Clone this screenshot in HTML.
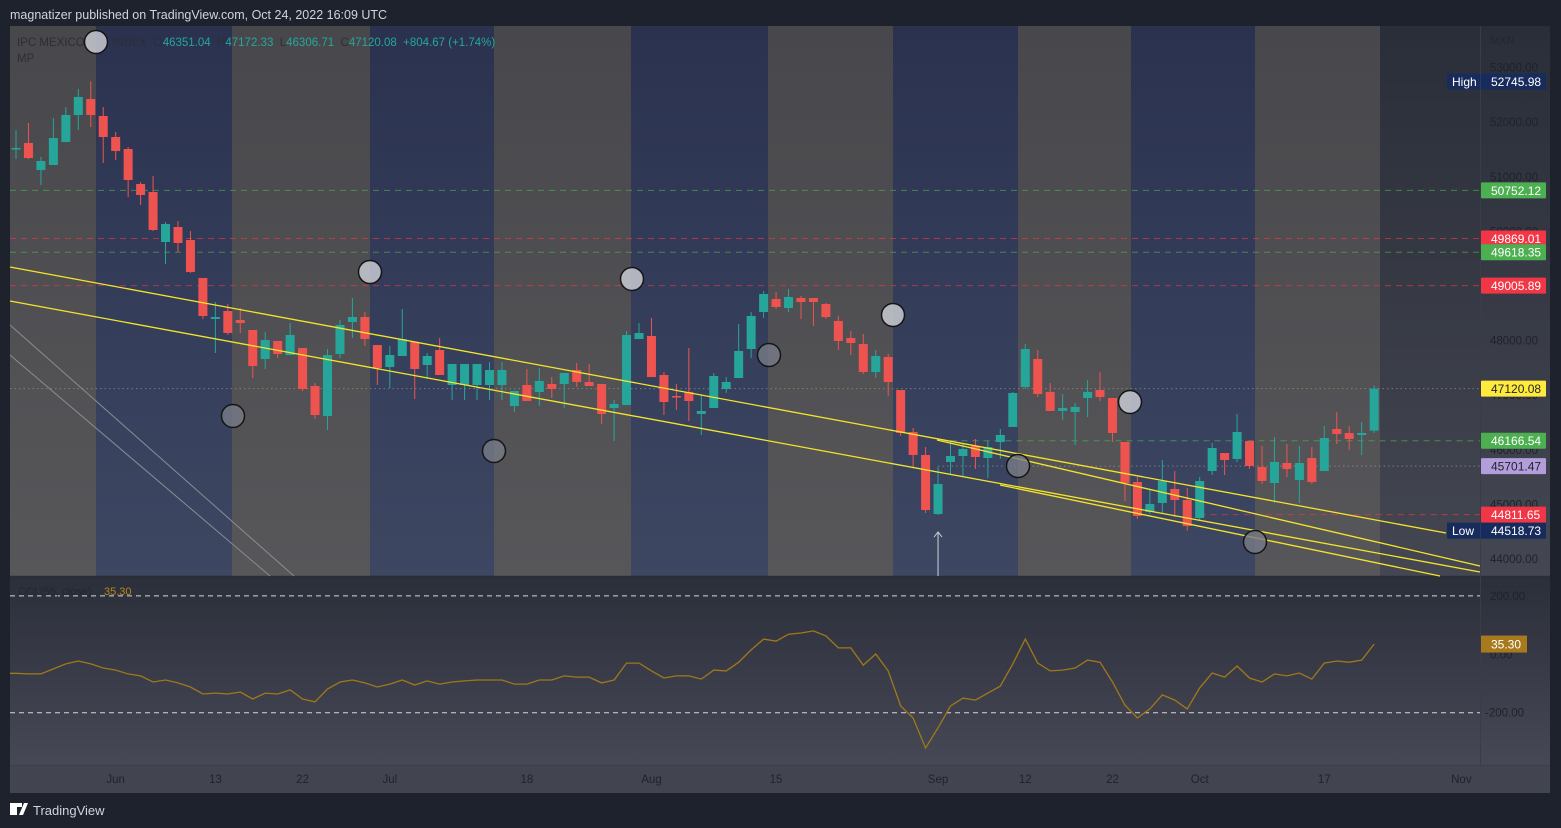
<!DOCTYPE html>
<html><head><meta charset="utf-8">
<style>
html,body{margin:0;padding:0;background:#1e222d;width:1561px;height:828px;overflow:hidden}
svg{display:block}
text{font-family:"Liberation Sans",sans-serif}
</style></head>
<body>
<svg id="chart" width="1561" height="828" viewBox="0 0 1561 828" xmlns="http://www.w3.org/2000/svg">
<defs>
<linearGradient id="gGray" x1="0" y1="0" x2="0" y2="1"><stop offset="0" stop-color="#48484c"/><stop offset="1" stop-color="#57575a"/></linearGradient>
<linearGradient id="gNavy" x1="0" y1="0" x2="0" y2="1"><stop offset="0" stop-color="#2a3250"/><stop offset="1" stop-color="#3d4762"/></linearGradient>
<linearGradient id="gDark" x1="0" y1="0" x2="0" y2="1"><stop offset="0" stop-color="#2a2e39"/><stop offset="1" stop-color="#444752"/></linearGradient>
<linearGradient id="gCci" x1="0" y1="0" x2="0" y2="1"><stop offset="0" stop-color="#2b2f3a"/><stop offset="1" stop-color="#464855"/></linearGradient>
</defs>
<text x="10" y="19" fill="#d1d4dc" font-size="12.5">magnatizer published on TradingView.com, Oct 24, 2022 16:09 UTC</text>
<g id="bg"></g>
<g id="hlines"></g>
<g id="candles"></g>
<g id="trend"></g>
<g id="axis"></g>
<g id="cci"></g>
<g id="time"></g>
<g font-size="11.5">
<text x="17" y="46" fill="#2c2e34" xml:space="preserve">IPC MEXICO, 1D, INDEX  O<tspan fill="#26a69a">46351.04</tspan>  H<tspan fill="#26a69a">47172.33</tspan>  L<tspan fill="#26a69a">46306.71</tspan>  C<tspan fill="#26a69a">47120.08</tspan>  <tspan fill="#26a69a">+804.67 (+1.74%)</tspan></text>
<text x="17" y="62" fill="#2c2e34">MP</text>
</g>
<g id="circles"></g>
<g>
<rect x="10" y="803" width="7" height="12" fill="#fff"/><rect x="10" y="803" width="12" height="4" fill="#fff"/><polygon points="19,815 24,803 28,803 23,815" fill="#fff"/>
<text x="33" y="815" fill="#d1d4dc" font-size="13">TradingView</text>
</g>
</svg>
<script>
const open=[51509,51619,51125,51216,51637,52132,52425,52114,51729,51509,50868,50722,49806,50081,49842,49147,48396,48542,48377,48194,47663,47993,47736,47864,47168,46619,47755,48341,48432,47919,47516,47718,47974,47553,47828,47187,47187,47187,47187,47187,46802,47187,47059,47205,47205,47462,47242,47205,46766,46821,48029,48084,47370,46985,47059,46656,46766,47114,47315,47846,48524,48762,48597,48780,48780,48670,48359,48048,47938,47425,47700,47095,46326,45905,44824,45777,45886,46070,45850,46143,46418,47150,47663,47059,46711,46692,46949,47095,46949,46143,45410,44861,45026,45282,45081,44751,45612,45941,45832,46161,45685,45392,45758,45447,45850,45612,46381,46308,46271,46351];
const high=[51857,51985,51363,52077,52278,52608,52746,52278,51821,51546,50905,51015,50172,50190,50007,49147,48707,48670,48597,48194,48158,47993,48322,47864,47223,47846,48377,48780,48524,47919,47901,48579,47974,47773,48048,47571,47571,47571,47608,47608,47077,47480,47498,47333,47407,47590,47571,47205,46912,48176,48322,48414,47425,47205,47864,47022,47407,47333,48304,48524,48908,48890,48945,48817,48780,48689,48451,48176,48121,47828,47755,47095,46399,46051,45685,46161,46106,46198,46161,46381,47059,47938,47828,47223,47022,46857,47278,47425,46949,46143,45502,45282,45813,45612,45300,45502,46125,45941,46656,46161,46070,46234,46106,46070,46051,46436,46692,46436,46509,47172];
const low=[51326,51326,50850,51216,51637,51857,51912,51253,51308,50630,50484,50007,49403,49623,49238,48396,47773,48103,48139,47315,47480,47681,47736,47077,46564,46363,47681,48048,47901,47187,47132,47718,46930,47297,47370,46912,46912,46912,46912,46912,46692,46894,46802,46949,46766,47150,47168,46473,46161,46821,48029,47333,46637,46729,46527,46271,46766,47040,47315,47681,48414,48579,48524,48396,48267,48396,47828,47736,47388,47315,46985,46253,45667,44842,44806,45538,45502,45648,45484,45832,46418,47114,46967,46711,46546,46088,46601,46894,46143,45062,44733,44824,44842,44769,44519,44696,45538,45538,45777,45648,45374,45026,45502,45026,45374,45612,46106,45996,45905,46307];
const close=[51527,51344,51289,51711,52132,52462,52132,51729,51473,50941,50667,50026,50136,49788,49256,48451,48432,48139,48322,47535,48011,47755,48103,47114,46637,47736,48286,48432,48029,47498,47736,48029,47480,47718,47370,47571,47571,47571,47462,47462,47077,46894,47260,47114,47407,47242,47168,46656,46839,48103,48139,47333,46875,46967,46894,46711,47352,47242,47810,48451,48853,48615,48799,48707,48707,48432,47993,47956,47425,47718,47242,46308,45905,44897,45374,45886,46015,45868,46051,46271,47040,47846,47022,46711,46766,46784,47059,46967,46308,45392,44788,45007,45429,45081,44604,45429,46033,45813,46326,45703,45429,45777,45648,45758,45410,46216,46289,46198,46308,47120];
const cci=[-65,-67,-67,-50,-33,-23,-33,-47,-54,-67,-74,-95,-88,-98,-112,-136,-133,-136,-129,-153,-133,-136,-122,-153,-163,-119,-95,-88,-98,-112,-102,-88,-105,-91,-102,-95,-91,-88,-88,-88,-102,-102,-88,-88,-74,-78,-78,-98,-88,-30,-30,-57,-81,-74,-74,-85,-54,-57,-27,15,52,45,69,73,80,63,22,22,-37,1,-57,-177,-218,-321,-252,-177,-150,-157,-133,-109,-33,52,-30,-57,-54,-47,-20,-27,-95,-174,-218,-187,-139,-157,-187,-115,-64,-78,-40,-81,-95,-67,-74,-64,-85,-30,-23,-27,-20,35];
const priceTicks=[44000,45000,46000,47000,48000,49000,50000,51000,52000,53000];
const cciTicks=[200,0,-200];
const timeLabels=["Jun","13","22","Jul","18","Aug","15","Sep","12","22","Oct","17","Nov"];
const timeIdx=[8,16,23,30,41,51,61,74,81,88,95,105,116];
const levelValues=[50752.12,49869.01,49618.35,49005.89,47120.08,46166.54,45701.47,44811.65];
const levelKinds=["green","red","green","red","last","green","gray","red"];
const levelStartIdx=[-1,-1,-1,-1,-1,75,74,95];
const highValue=52745.98, lowValue=44518.73;

const NS="http://www.w3.org/2000/svg";
const xOf=i=>16+i*12.46;
const yP=p=>559-(p-44000)*0.0546;
const yC=v=>654.3-v*0.292;
function mk(tag,attrs,parent){const e=document.createElementNS(NS,tag);for(const k in attrs)e.setAttribute(k,attrs[k]);parent.appendChild(e);return e;}
const g=id=>document.getElementById(id);

const bg=g('bg');
const cols=[[10,96,'gGray'],[96,232,'gNavy'],[232,370,'gGray'],[370,494,'gNavy'],[494,631,'gGray'],[631,768,'gNavy'],[768,893,'gGray'],[893,1018,'gNavy'],[1018,1131,'gGray'],[1131,1255,'gNavy'],[1255,1380,'gGray'],[1380,1550,'gDark']];
cols.forEach(c=>{const r=mk('rect',{x:c[0],y:26,width:c[1]-c[0],height:550,fill:'url(#'+c[2]+')'},bg);

});
const cbg=mk('rect',{x:10,y:577,width:1540,height:188,fill:'url(#gCci)'},bg);


const tbg=mk('rect',{x:10,y:765,width:1540,height:28,fill:'#42454f'},bg);


mk('line',{x1:10,y1:576.5,x2:1550,y2:576.5,stroke:'#2a2d36','stroke-width':1.5},bg);
mk('line',{x1:1480.5,y1:26,x2:1480.5,y2:765,stroke:'#3a3d47','stroke-width':1},bg);
mk('line',{x1:10,y1:765.5,x2:1550,y2:765.5,stroke:'#3c3f49','stroke-width':1},bg);
mk('line',{x1:10,y1:325,x2:294,y2:576,stroke:'#8a8c92','stroke-width':1},bg);
mk('line',{x1:10,y1:355,x2:270,y2:576,stroke:'#8a8c92','stroke-width':1},bg);

const colMap={green:'#4caf50',red:'#f23645',last:'#9a9a8a',gray:'#9a9aa8'};
const hl=g('hlines');
levelValues.forEach((v,k)=>{const kind=levelKinds[k];const x1=levelStartIdx[k]<0?10:xOf(levelStartIdx[k]);
const l=mk('line',{x1:x1,y1:yP(v),x2:1480,y2:yP(v),stroke:colMap[kind],'stroke-width':1,'stroke-dasharray':(kind==='last'||kind==='gray')?'1.5,3':'6,5',opacity:0.65},hl);

});

const cg=g('candles');
for(let i=0;i<open.length;i++){
 const up=close[i]>=open[i];const col=up?'#26a69a':'#ef5350';const x=xOf(i);
 const w=mk('line',{x1:x,y1:yP(high[i]),x2:x,y2:yP(low[i]),stroke:col,'stroke-width':1},cg);
 
 
 const t=Math.min(yP(open[i]),yP(close[i]));const h=Math.max(1.5,Math.abs(yP(open[i])-yP(close[i])));
 const b=mk('rect',{x:x-4.5,y:t,width:9,height:h,fill:col},cg);
 
 
}
const ax=xOf(74);
mk('line',{x1:ax,y1:532,x2:ax,y2:576,stroke:'#d0d2d8','stroke-width':1},cg);
mk('polyline',{points:(ax-4)+',537 '+ax+',532 '+(ax+4)+',537',fill:'none',stroke:'#d0d2d8','stroke-width':1},cg);

const tg=g('trend');
[[10,267,1446,533],[10,301,1480,572],[937,440,1480,566],[1000,485,1440,576]].forEach(s=>{
 const l=mk('line',{x1:s[0],y1:s[1],x2:s[2],y2:s[3],stroke:'#f5e52a','stroke-width':1.3},tg);
 
 });

const cgc=g('circles');
[[96,42,1],[370,272,1],[632,279,1],[893,315,1],[1130,402,1],[769,355,0],[233,416,0],[494,451,0],[1018,466,0],[1255,542,0]].forEach(c=>{
 const e=mk('circle',{cx:c[0],cy:c[1],r:11.5,fill:c[2]?'rgba(200,202,210,0.85)':'rgba(120,124,135,0.8)',stroke:'#151515','stroke-width':1.5},cgc);
 
 });

const axg=g('axis');
const mx=mk('text',{x:1490,y:44,fill:'#23262e','font-size':11},axg);mx.textContent='MXN';
priceTicks.forEach(p=>{const t=mk('text',{x:1490,y:yP(p)+4,fill:'#1f222a','font-size':11.5},axg);t.textContent=p.toFixed(2);
 
 });
const boxCol={green:'#4caf50',red:'#f23645',last:'#ffeb3b',gray:'#b39ddb'};
levelValues.forEach((v,k)=>{const kind=levelKinds[k];const y=yP(v);
 const r=mk('rect',{x:1481,y:y-8,width:65,height:16,fill:boxCol[kind],rx:1},axg);
 
 
 const t=mk('text',{x:1491,y:y+4.5,fill:(kind==='last'||kind==='gray')?'#1e222d':'#fff','font-size':12},axg);t.textContent=v.toFixed(2);});
[['High',highValue],['Low',lowValue]].forEach(h=>{const y=yP(h[1]);
 const r=mk('rect',{x:1447,y:y-8,width:99,height:16,fill:'#172c5c'},axg);
 
 
 mk('line',{x1:1480.5,y1:y-8,x2:1480.5,y2:y+8,stroke:'#2a3a66'},axg);
 const a=mk('text',{x:1452,y:y+4.5,fill:'#fff','font-size':12},axg);a.textContent=h[0];
 const b=mk('text',{x:1491,y:y+4.5,fill:'#fff','font-size':12},axg);b.textContent=h[1].toFixed(2);});

const cc=g('cci');
cciTicks.forEach(v=>{if(v!==0){const l=mk('line',{x1:10,y1:yC(v),x2:1480,y2:yC(v),stroke:'#d8d8d8','stroke-width':1,'stroke-dasharray':'5,4'},cc);
 
 }
 const t=mk('text',{x:v<0?1485:1490,y:yC(v)+4,fill:'#1f222a','font-size':11.5},cc);t.textContent=v.toFixed(2);
 
 });
let d='M10,'+yC(cci[0]).toFixed(1);
cci.forEach((v,i)=>{d+=' L'+xOf(i).toFixed(1)+','+yC(v).toFixed(1);});
const cl=mk('path',{d:d,fill:'none',stroke:'#a07818','stroke-width':1.3},cc);


const last=cci[cci.length-1];
const lb=mk('rect',{x:1481,y:yC(last)-8.5,width:46,height:17,fill:'#a87a1e'},cc);


const lt=mk('text',{x:1491,y:yC(last)+4.5,fill:'#fff','font-size':12},cc);lt.textContent='35.30';
const ct=mk('text',{x:18,y:595,fill:'#23262e','font-size':11},cc);ct.textContent='CCI (55, close)';


const cv=mk('text',{x:104,y:595,fill:'#b8861b','font-size':11},cc);cv.textContent='35.30';

const tga=g('time');
timeLabels.forEach((s,k)=>{const t=mk('text',{x:xOf(timeIdx[k]),y:783,fill:'#1f222a','font-size':11.5,'text-anchor':'middle'},tga);t.textContent=s;
 
 });
</script>
</body></html>
